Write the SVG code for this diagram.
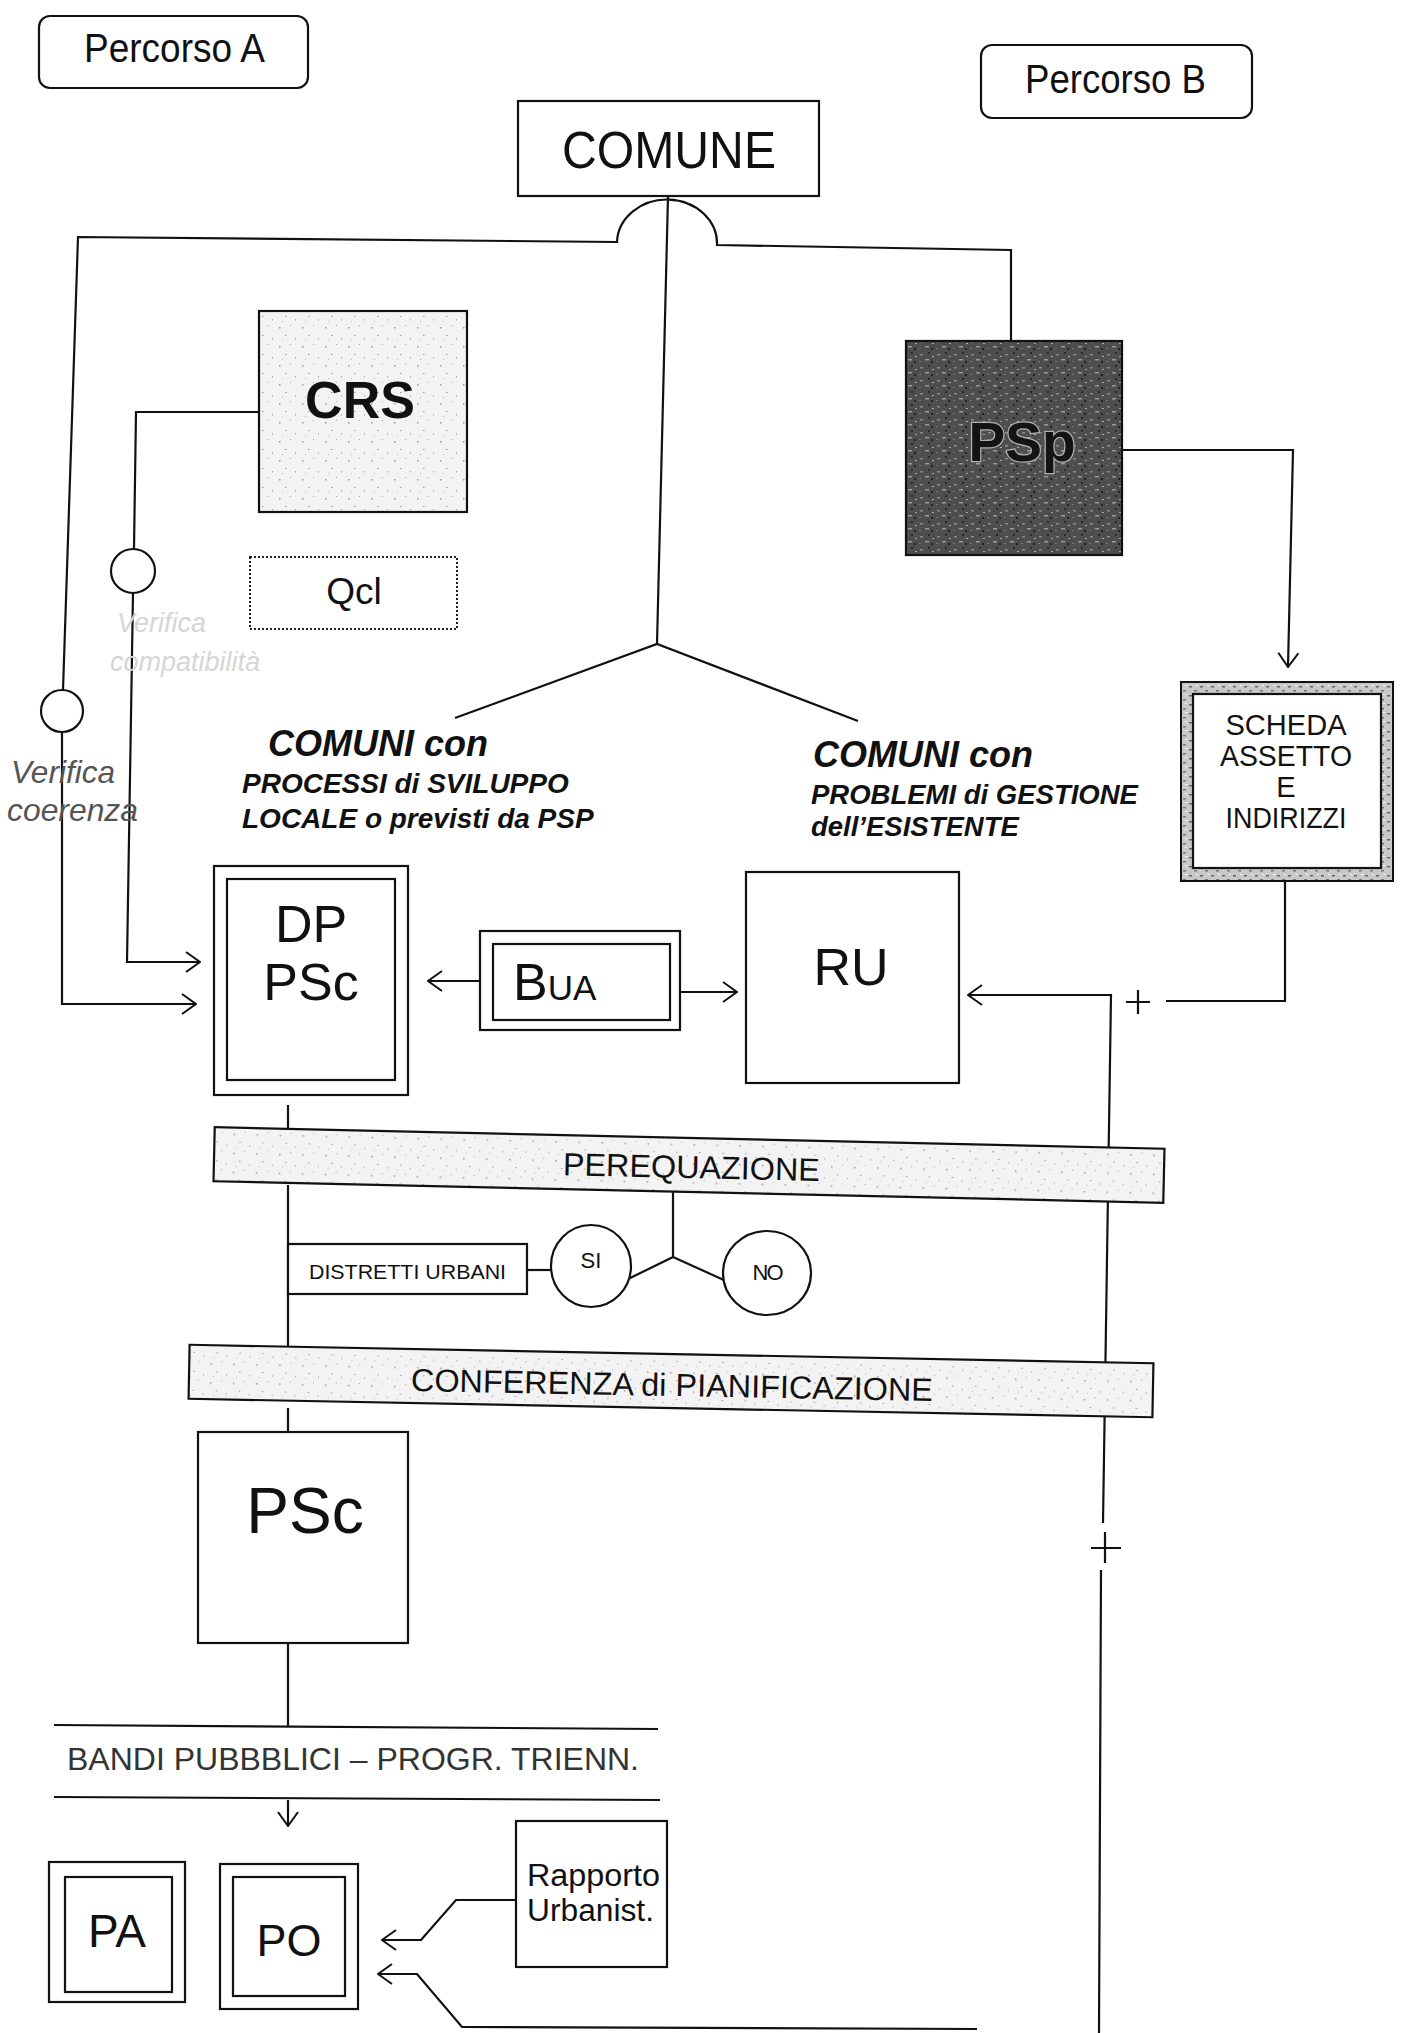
<svg xmlns="http://www.w3.org/2000/svg" width="1401" height="2033" viewBox="0 0 1401 2033">
<style>
.ln{fill:none;stroke:#111;stroke-width:2.2}
.box{fill:#fff;stroke:#111;stroke-width:2.2}
.t{font-family:"Liberation Sans",Arial,sans-serif;fill:#111}
.c{text-anchor:middle}
.bi{font-weight:bold;font-style:italic}
</style>
<defs>
<marker id="ar" viewBox="0 0 16 22" refX="15" refY="11" markerWidth="16" markerHeight="22" markerUnits="userSpaceOnUse" orient="auto">
<path d="M1,1 L15,11 L1,21" fill="none" stroke="#111" stroke-width="2"/>
</marker>
<pattern id="lightspk" width="23" height="19" patternUnits="userSpaceOnUse">
<rect width="23" height="19" fill="#f3f3f3"/>
<rect x="3" y="4" width="1.5" height="1.5" fill="#999"/>
<rect x="14" y="2" width="1" height="1" fill="#aaa"/>
<rect x="9" y="12" width="1.5" height="1" fill="#999"/>
<rect x="19" y="15" width="1" height="1.5" fill="#aaa"/>
<rect x="6" y="17" width="1" height="1" fill="#bbb"/>
</pattern>
<pattern id="darkspk" width="17" height="13" patternUnits="userSpaceOnUse">
<rect width="17" height="13" fill="#4e4e4e"/>
<rect x="2" y="3" width="3" height="1.5" fill="#8a8a8a"/>
<rect x="10" y="1" width="2" height="2" fill="#2a2a2a"/>
<rect x="7" y="8" width="4" height="1.5" fill="#9a9a9a"/>
<rect x="13" y="10" width="2" height="2" fill="#222"/>
<rect x="1" y="10" width="2" height="1" fill="#777"/>
<rect x="14" y="5" width="2" height="1" fill="#aaa"/>
</pattern>
<pattern id="framespk" width="11" height="9" patternUnits="userSpaceOnUse">
<rect width="11" height="9" fill="#c8c8c8"/>
<rect x="1" y="2" width="3" height="1.5" fill="#666"/>
<rect x="6" y="6" width="3" height="1.5" fill="#777"/>
<rect x="8" y="1" width="2" height="1" fill="#f4f4f4"/>
</pattern>
</defs>

<g id="connectors">
<path class="ln" d="M1011,343 L1011,250 L717,245 A50,44 0 0 0 617,242 L78,237 L63,690"/>
<path class="ln" d="M62,732 L62,1004 L196,1004" marker-end="url(#ar)"/>
<path class="ln" d="M259,412 L136,412 L134,549"/>
<path class="ln" d="M133,593 L127,962 L200,962" marker-end="url(#ar)"/>
<path class="ln" d="M668,196 L657,644"/>
<path class="ln" d="M455,718 L657,644 L858,721"/>
<path class="ln" d="M1122,450 L1293,450 L1288,667" marker-end="url(#ar)"/>
<path class="ln" d="M1285,881 L1285,1001 L1166,1001"/>
<path class="ln" d="M1126,1002 H1150 M1138,990 V1014"/>
<path class="ln" d="M1099,2033 L1101,1570 M1103,1523 L1111,995 L968,995" marker-end="url(#ar)"/>
<path class="ln" d="M1091,1548 H1121 M1105,1532 V1563"/>
<path class="ln" d="M480,981 L428,981" marker-end="url(#ar)"/>
<path class="ln" d="M680,992 L737,992" marker-end="url(#ar)"/>
<path class="ln" d="M288,1105 L288,1130"/>
<path class="ln" d="M288,1185 L288,1350"/>
<path class="ln" d="M288,1408 L288,1432"/>
<path class="ln" d="M288,1643 L288,1726"/>
<path class="ln" d="M288,1800 L288,1826" marker-end="url(#ar)"/>
<path class="ln" d="M673,1190 L673,1257 L622,1282 M673,1257 L726,1281"/>
<path class="ln" d="M527,1270 L551,1270"/>
<path class="ln" d="M516,1900 L456,1900 L421,1940 L382,1940" marker-end="url(#ar)"/>
<path class="ln" d="M977,2029 L462,2027 L417,1974 L378,1974" marker-end="url(#ar)"/>
</g>

<g id="percorsoA">
<rect class="box" x="39" y="16" width="269" height="72" rx="11"/>
<text class="t" x="84" y="62" font-size="40" textLength="181" lengthAdjust="spacingAndGlyphs">Percorso A</text>
</g>
<g id="percorsoB">
<rect class="box" x="981" y="45" width="271" height="73" rx="11"/>
<text class="t" x="1025" y="93" font-size="40" textLength="181" lengthAdjust="spacingAndGlyphs">Percorso B</text>
</g>
<g id="comune">
<rect class="box" x="518" y="101" width="301" height="95"/>
<text class="t" x="562" y="168" font-size="52" textLength="214" lengthAdjust="spacingAndGlyphs">COMUNE</text>
</g>
<g id="crs">
<rect x="259" y="311" width="208" height="201" fill="url(#lightspk)" stroke="#111" stroke-width="2.2"/>
<text class="t c" x="360" y="418" font-size="52" font-weight="bold">CRS</text>
</g>
<g id="qcl">
<rect x="250" y="557" width="207" height="72" fill="#fff" stroke="#222" stroke-width="2" stroke-dasharray="2,2"/>
<text class="t c" x="354" y="604" font-size="37">Qcl</text>
</g>
<g id="verifica-compatibilita">
<circle class="box" cx="133" cy="571" r="22"/>
<text class="t" x="117" y="632" font-size="27" font-style="italic" style="fill:#d6d6d6">Verifica</text>
<text class="t" x="110" y="671" font-size="27" font-style="italic" style="fill:#d6d6d6">compatibilità</text>
</g>
<g id="verifica-coerenza">
<circle class="box" cx="62" cy="711" r="21"/>
<text class="t" x="11" y="783" font-size="32" font-style="italic" textLength="104" lengthAdjust="spacingAndGlyphs" style="fill:#555">Verifica</text>
<text class="t" x="7" y="821" font-size="32" font-style="italic" textLength="131" lengthAdjust="spacingAndGlyphs" style="fill:#555">coerenza</text>
</g>
<g id="psp">
<rect x="906" y="341" width="216" height="214" fill="url(#darkspk)" stroke="#111" stroke-width="2.2"/>
<text class="t c" x="1022" y="461" font-size="55" font-weight="bold" stroke="#b0b0b0" stroke-width="2.5" paint-order="stroke" style="fill:#141414">PSp</text>
</g>
<g id="scheda">
<rect x="1181" y="682" width="212" height="199" fill="url(#framespk)" stroke="#111" stroke-width="2"/>
<rect class="box" x="1193" y="694" width="188" height="174" stroke-width="3"/>
<text class="t c" x="1286" y="735" font-size="29" textLength="121" lengthAdjust="spacingAndGlyphs">SCHEDA</text>
<text class="t c" x="1286" y="766" font-size="29" textLength="132" lengthAdjust="spacingAndGlyphs">ASSETTO</text>
<text class="t c" x="1286" y="797" font-size="29">E</text>
<text class="t c" x="1286" y="828" font-size="29" textLength="121" lengthAdjust="spacingAndGlyphs">INDIRIZZI</text>
</g>
<g id="comuni-sviluppo">
<text class="t bi" x="268" y="756" font-size="36">COMUNI con</text>
<text class="t bi" x="242" y="793" font-size="28">PROCESSI di SVILUPPO</text>
<text class="t bi" x="242" y="828" font-size="28">LOCALE o previsti da PSP</text>
</g>
<g id="comuni-gestione">
<text class="t bi" x="813" y="767" font-size="36">COMUNI con</text>
<text class="t bi" x="811" y="804" font-size="27.5">PROBLEMI di GESTIONE</text>
<text class="t bi" x="811" y="836" font-size="27.5">dell’ESISTENTE</text>
</g>
<g id="dppsc">
<rect class="box" x="214" y="866" width="194" height="229"/>
<rect class="box" x="227" y="879" width="168" height="201"/>
<text class="t c" x="311" y="942" font-size="52">DP</text>
<text class="t c" x="311" y="1000" font-size="52">PSc</text>
</g>
<g id="bua">
<rect class="box" x="480" y="931" width="200" height="99"/>
<rect class="box" x="493" y="944" width="177" height="76"/>
<text class="t" x="513" y="1000" font-size="52">B<tspan font-size="35">UA</tspan></text>
</g>
<g id="ru">
<rect class="box" x="746" y="872" width="213" height="211"/>
<text class="t c" x="851" y="985" font-size="52">RU</text>
</g>
<g id="perequazione" transform="rotate(1.3 689 1165)">
<rect x="214" y="1138" width="950" height="54" fill="url(#lightspk)" stroke="#111" stroke-width="2.2"/>
<text class="t" x="563" y="1178" font-size="32" textLength="257" lengthAdjust="spacingAndGlyphs">PEREQUAZIONE</text>
</g>
<g id="distretti">
<rect class="box" x="288" y="1244" width="239" height="50"/>
<text class="t" x="309" y="1279" font-size="21" textLength="197" lengthAdjust="spacingAndGlyphs">DISTRETTI URBANI</text>
</g>
<g id="si">
<ellipse class="box" cx="591" cy="1266" rx="40" ry="41"/>
<text class="t c" x="591" y="1268" font-size="22">SI</text>
</g>
<g id="no">
<ellipse class="box" cx="767" cy="1273" rx="44" ry="42"/>
<text class="t c" x="767" y="1280" font-size="22" letter-spacing="-2">NO</text>
</g>
<g id="conferenza" transform="rotate(1.1 671 1381)">
<rect x="189" y="1354" width="964" height="54" fill="url(#lightspk)" stroke="#111" stroke-width="2.2"/>
<text class="t" x="411" y="1396" font-size="32" textLength="522" lengthAdjust="spacingAndGlyphs">CONFERENZA di PIANIFICAZIONE</text>
</g>
<g id="psc">
<rect class="box" x="198" y="1432" width="210" height="211"/>
<text class="t c" x="305" y="1533" font-size="64">PSc</text>
</g>
<g id="bandi">
<line class="ln" x1="54" y1="1725" x2="658" y2="1729"/>
<line class="ln" x1="54" y1="1797" x2="660" y2="1800"/>
<text class="t" x="67" y="1770" font-size="32" textLength="572" lengthAdjust="spacingAndGlyphs" style="fill:#333">BANDI PUBBBLICI – PROGR. TRIENN.</text>
</g>
<g id="pa">
<rect class="box" x="49" y="1862" width="136" height="140"/>
<rect class="box" x="65" y="1877" width="107" height="115"/>
<text class="t c" x="117" y="1947" font-size="46">PA</text>
</g>
<g id="po">
<rect class="box" x="220" y="1864" width="138" height="145"/>
<rect class="box" x="233" y="1877" width="112" height="119"/>
<text class="t c" x="289" y="1956" font-size="45">PO</text>
</g>
<g id="rapporto">
<rect class="box" x="516" y="1821" width="151" height="146"/>
<text class="t" x="527" y="1886" font-size="31" textLength="133" lengthAdjust="spacingAndGlyphs">Rapporto</text>
<text class="t" x="527" y="1921" font-size="31" textLength="127" lengthAdjust="spacingAndGlyphs">Urbanist.</text>
</g>
</svg>
